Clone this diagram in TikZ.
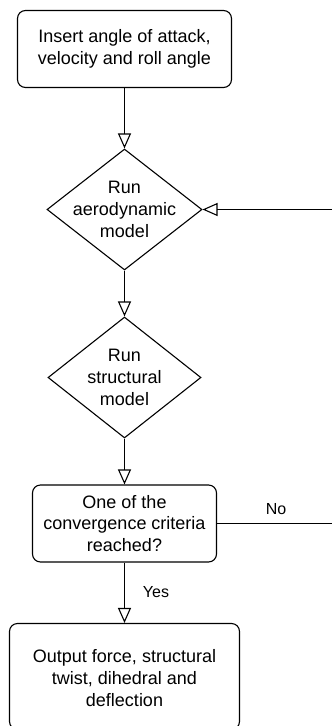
\documentclass[tikz,border=0pt]{standalone}
\usepackage{fontspec}
\setmainfont{Liberation Sans}
\usetikzlibrary{shapes.geometric,arrows.meta}
\begin{document}
\begin{tikzpicture}[x=1pt,y=-1pt,
  box/.style={draw, rounded corners=8pt, line width=1.1pt, inner sep=0pt},
  dia/.style={draw, diamond, line width=1.1pt, inner sep=0pt},
  txt/.style={font=\fontsize{18}{21.7}\selectfont, align=center, inner sep=0pt},
  lbl/.style={font=\fontsize{16}{19}\selectfont, inner sep=0pt},
  arr/.style={line width=1.1pt, -{Triangle[open,length=15pt,width=13pt]}}]
\useasboundingbox (0,0) rectangle (332,726);
\node[box, txt, minimum width=214pt, minimum height=77pt] (b1) at (124.5,49) {Insert angle of attack,\\velocity and roll angle};
\node[dia, minimum width=155pt, minimum height=121pt] (d1) at (124.5,209.5) {};
\node[txt] (t1) at (d1.center) {Run\\aerodynamic\\model};
\node[dia, minimum width=153pt, minimum height=121pt] (d2) at (124.5,377.5) {};
\node[txt] (t2) at (d2.center) {Run\\structural\\model};
\node[box, txt, minimum width=184pt, minimum height=77pt] (b3) at (124.5,523.5) {One of the\\convergence criteria\\reached?};
\node[box, minimum width=230pt, minimum height=106pt] (b4) at (124.5,676.5) {};
\node[txt] (t4) at (124.5,678) {Output force, structural\\twist, dihedral and\\deflection};
\coordinate (r) at (350,523.5);
\draw[arr] (b1.south) -- (d1.north);
\draw[arr] (d1.south) -- (d2.north);
\draw[arr] (d2.south) -- (b3.north);
\draw[arr] (b3.south) -- (b4.north);
\draw[arr] (b3.east) -- (r) |- (d1.east);
\node[lbl] (no) at (276,509) {No};
\node[lbl] (yes) at (156,592) {Yes};
\end{tikzpicture}
\end{document}
